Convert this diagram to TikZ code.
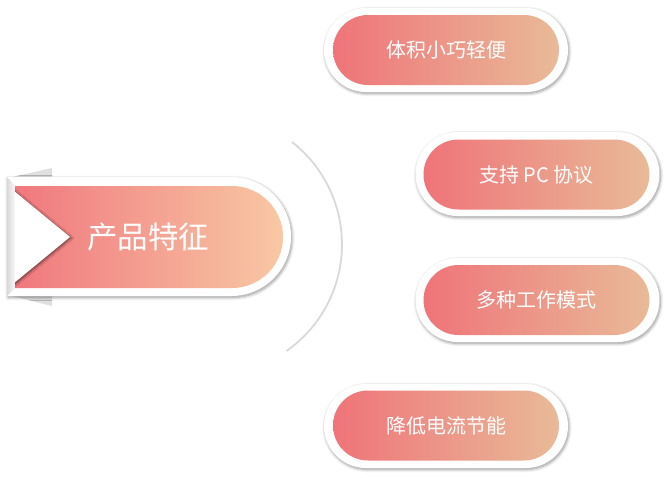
\documentclass[tikz,border=0pt]{standalone}
\usepackage{fontspec}
\newfontfamily\cjk{Noto Sans CJK SC}
\usetikzlibrary{shapes.misc,shadows.blur}
\definecolor{rosa}{HTML}{EF7479}
\definecolor{pesca}{HTML}{E9BA98}
\definecolor{rosab}{HTML}{F0787E}
\definecolor{pescab}{HTML}{F8C8A4}

\begin{document}
\begin{tikzpicture}[x=1pt,y=-1pt,
    ombra/.style={blur shadow={shadow xshift=1pt,shadow yshift=-1.5pt,shadow blur radius=3pt,shadow blur steps=8,shadow opacity=40}},
    cornice/.style={rounded rectangle,fill=white,minimum width=244pt,minimum height=84pt,inner sep=0pt,ombra},
    pillola/.style={rounded rectangle,left color=rosa,right color=pesca,minimum width=226pt,minimum height=70pt,inner sep=0pt,text=white,font=\cjk\fontsize{20}{20}\selectfont}]
        \useasboundingbox (0,0) rectangle (667,477);

        %linguette grigie del nastro
        \fill[gray!25] (8,178) -- (52,168) -- (52,178) -- cycle;
        \fill[gray!25] (8,295) -- (52,306) -- (52,295) -- cycle;
        %corpo bianco del nastro
        \fill[white,ombra] (7,177) -- (231.5,177) arc[start angle=-90,end angle=90,radius=59.5] -- (7,296) -- cycle;
        \shade[left color=gray!30,right color=gray!5] (7,177) -- (15,186) -- (15,288) -- (7,296) -- cycle;
        %corpo rosa con la tacca
        \shade[left color=rosab,right color=pescab] (15,186) -- (232,186) arc[start angle=-90,end angle=90,radius=51] -- (15,288) -- cycle;
        \begin{scope}
            \clip (15,186) -- (232,186) arc[start angle=-90,end angle=90,radius=51] -- (15,288) -- cycle;
            \fill[white,blur shadow={shadow xshift=2pt,shadow yshift=-1pt,shadow opacity=45}] (8,186) -- (70,237) -- (8,288) -- cycle;
        \end{scope}
        \node[text=white,font=\cjk\fontsize{30.5}{30.5}\selectfont] (titolo) at (148,237) {产品特征};

        %arco
        \draw[gray!30,line width=1.8pt] (292,142) arc[start angle=-52,end angle=55,radius=130];

        %caratteristiche
        \node[cornice] (c1) at (446,50) {};
        \node[pillola] (p1) at (446,50) {体积小巧轻便};
        \node[cornice] (c2) at (537.5,174) {};
        \node[pillola] (p2) at (536.5,174.5) {支持 PC 协议};
        \node[cornice] (c3) at (537.5,300) {};
        \node[pillola] (p3) at (536.5,300) {多种工作模式};
        \node[cornice] (c4) at (446,426) {};
        \node[pillola] (p4) at (446,425.5) {降低电流节能};
    \end{tikzpicture}
\end{document}
